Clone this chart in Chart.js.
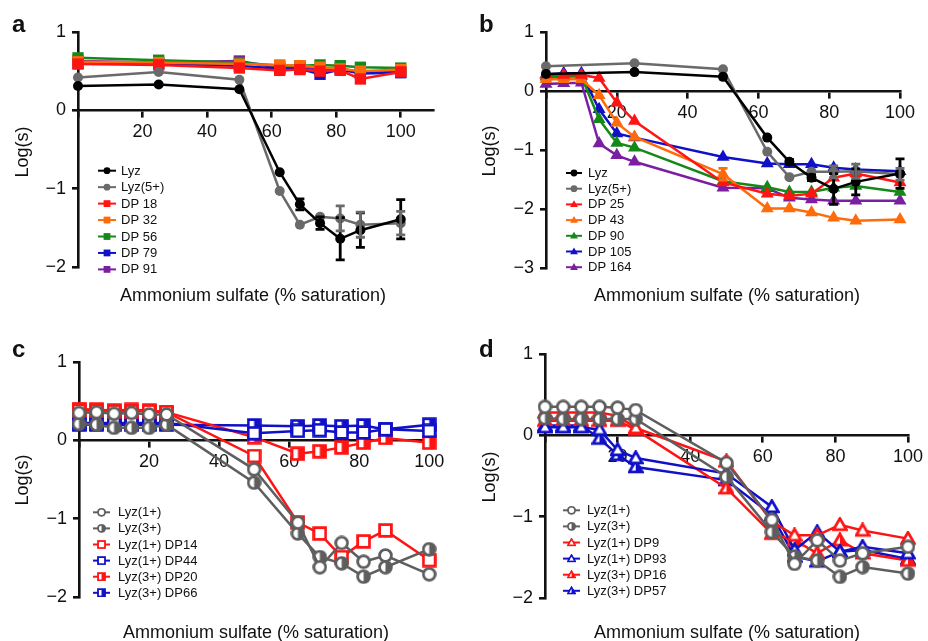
<!DOCTYPE html>
<html>
<head>
<meta charset="utf-8">
<script src="https://cdn.jsdelivr.net/npm/chart.js@4.4.1/dist/chart.umd.min.js"></script>
<style>
  body { margin: 0; background: #fff; }
  #wrap { position: relative; width: 928px; height: 641px; overflow: hidden; font-family: "Liberation Sans", Arial, sans-serif; color: #111; }
  canvas { position: absolute; }
  .lt { position: absolute; font-weight: bold; font-size: 24px; line-height: 1; }
  .xt { position: absolute; width: 400px; text-align: center; font-size: 18px; line-height: 1; }
  .yt { position: absolute; font-size: 18px; line-height: 1; transform: translate(-50%, -50%) rotate(-90deg); white-space: nowrap; }
</style>
</head>
<body>
<div id="wrap">
  <canvas id="ca" width="464" height="320" style="left:0;top:0"></canvas>
  <canvas id="cb" width="464" height="320" style="left:464px;top:0"></canvas>
  <canvas id="cc" width="464" height="321" style="left:0;top:320px"></canvas>
  <canvas id="cd" width="464" height="321" style="left:464px;top:320px"></canvas>

  <div class="lt" style="left:12px;top:12px">a</div>
  <div class="lt" style="left:479px;top:12px">b</div>
  <div class="lt" style="left:12px;top:337px">c</div>
  <div class="lt" style="left:479px;top:337px">d</div>

  <div class="yt" style="left:22px;top:152px">Log(s)</div>
  <div class="yt" style="left:489px;top:151px">Log(s)</div>
  <div class="yt" style="left:22px;top:480px">Log(s)</div>
  <div class="yt" style="left:489px;top:477px">Log(s)</div>

  <div class="xt" style="left:53px;top:286px">Ammonium sulfate (% saturation)</div>
  <div class="xt" style="left:527px;top:286px">Ammonium sulfate (% saturation)</div>
  <div class="xt" style="left:56px;top:623px">Ammonium sulfate (% saturation)</div>
  <div class="xt" style="left:527px;top:623px">Ammonium sulfate (% saturation)</div>
</div>

<script>
// ---- panel a ----
const aX = [0, 25, 50, 62.5, 68.75, 75, 81.25, 87.5, 100];
const aLyz = [0.31, 0.33, 0.27, -0.79, -1.2, -1.44, -1.64, -1.53, -1.39];
const aLyzErr = [0, 0, 0, 0, 0.07, 0.08, 0.27, 0.22, 0.25];
const aLyz5 = [0.42, 0.49, 0.39, -1.03, -1.46, -1.36, -1.38, -1.46, -1.44];
const aLyz5Err = [0, 0, 0, 0, 0, 0, 0.16, 0.16, 0.15];
const aDP18 = [0.59, 0.58, 0.54, 0.51, 0.52, 0.5, 0.51, 0.4, 0.49];
const aDP32 = [0.62, 0.61, 0.59, 0.58, 0.57, 0.55, 0.53, 0.5, 0.52];
const aDP56 = [0.67, 0.64, 0.61, 0.57, 0.57, 0.58, 0.57, 0.55, 0.54];
const aDP79 = [0.6, 0.59, 0.57, 0.53, 0.53, 0.46, 0.52, 0.47, 0.48];
const aDP91 = [0.63, 0.61, 0.63, 0.54, 0.55, 0.52, 0.54, 0.48, 0.49];

// ---- panel b ----
const bX = [0, 25, 50, 62.5, 68.75, 75, 81.25, 87.5, 100];
const bLyz = [0.29, 0.32, 0.24, -0.79, -1.2, -1.47, -1.66, -1.54, -1.4];
const bLyzErr = [0, 0, 0, 0, 0.04, 0.05, 0.26, 0.22, 0.25];
const bLyz5 = [0.42, 0.47, 0.37, -1.03, -1.46, -1.37, -1.37, -1.36, -1.41];
const bLyz5Err = [0, 0, 0, 0, 0, 0, 0.1, 0.12, 0.1];
const bDX = [0, 5, 10, 15, 20, 25, 50, 62.5, 68.75, 75, 81.25, 87.5, 100];
const bDP25 = [0.28, 0.27, 0.27, 0.22, -0.2, -0.51, -1.55, -1.74, -1.78, -1.74, -1.47, -1.4, -1.55];
const bDP43 = [0.2, 0.2, 0.2, -0.07, -0.54, -0.78, -1.41, -1.99, -1.99, -2.06, -2.15, -2.2, -2.18];
const bDP43Err = [0, 0, 0, 0, 0, 0, 0.1, 0, 0, 0, 0, 0, 0];
const bDP90 = [0.24, 0.24, 0.25, -0.48, -0.88, -0.96, -1.53, -1.63, -1.71, -1.71, -1.64, -1.61, -1.71];
const bDP105 = [0.28, 0.3, 0.3, -0.31, -0.72, -0.79, -1.12, -1.23, -1.24, -1.24, -1.3, -1.33, -1.36];
const bDP164 = [0.12, 0.13, 0.14, -0.89, -1.09, -1.2, -1.64, -1.65, -1.81, -1.84, -1.86, -1.86, -1.86];

// ---- panel c ----
const cX = [0, 5, 10, 15, 20, 25, 50, 62.5, 68.75, 75, 81.25, 87.5, 100];
const cLyz1 = [0.35, 0.36, 0.34, 0.35, 0.33, 0.33, -0.37, -1.05, -1.62, -1.31, -1.55, -1.47, -1.71];
const cLyz3 = [0.21, 0.2, 0.16, 0.16, 0.16, 0.2, -0.54, -1.19, -1.49, -1.57, -1.74, -1.62, -1.39];
const cDP14 = [0.38, 0.38, 0.37, 0.37, 0.37, 0.36, -0.2, -1.05, -1.19, -1.49, -1.29, -1.15, -1.53];
const cDP44 = [0.22, 0.22, 0.22, 0.22, 0.22, 0.22, 0.09, 0.12, 0.13, 0.1, 0.1, 0.14, 0.12];
const cDP20 = [0.4, 0.39, 0.38, 0.39, 0.38, 0.36, 0.04, -0.17, -0.14, -0.09, -0.03, 0.03, -0.03];
const cDP66 = [0.2, 0.2, 0.2, 0.2, 0.2, 0.2, 0.19, 0.18, 0.19, 0.18, 0.19, 0.14, 0.2];

// ---- panel d ----
const dX = [0, 5, 10, 15, 20, 25, 50, 62.5, 68.75, 75, 81.25, 87.5, 100];
const dLyz1 = [0.35, 0.35, 0.35, 0.35, 0.34, 0.31, -0.34, -1.04, -1.58, -1.29, -1.54, -1.45, -1.37];
const dLyz3 = [0.21, 0.2, 0.2, 0.2, 0.2, 0.2, -0.51, -1.19, -1.49, -1.54, -1.74, -1.62, -1.7];
const dDP9 = [0.28, 0.28, 0.28, 0.28, 0.24, 0.09, -0.32, -1.06, -1.23, -1.23, -1.1, -1.17, -1.27];
const dDP93 = [0.1, 0.1, 0.1, 0.07, -0.18, -0.28, -0.47, -0.88, -1.41, -1.19, -1.43, -1.37, -1.45];
const dDP16 = [0.18, 0.18, 0.18, 0.18, 0.18, 0.07, -0.65, -1.21, -1.29, -1.45, -1.29, -1.45, -1.54];
const dDP57 = [0.12, 0.12, 0.12, -0.04, -0.24, -0.39, -0.55, -0.98, -1.49, -1.55, -1.43, -1.41, -1.52];

const INK = '#111';
const RED = '#ff1414', ORANGE = '#ff6a0a', GREEN = '#16881a', BLUE = '#1010c8', PURPLE = '#7a1fa2';
const GRAY = '#6a6a6a', DGRAY = '#5e5e5e';

Chart.defaults.font.family = '"Liberation Sans", Arial, sans-serif';
Chart.defaults.color = INK;

// open / half filled markers for panels c and d
function makeMark(shape, color, half, s) {
  const c = document.createElement('canvas');
  c.width = c.height = s;
  const g = c.getContext('2d');
  const m = s / 2, r = s / 2 - 1.6;
  function path() {
    g.beginPath();
    if (shape === 'circle') g.arc(m, m, r, 0, Math.PI * 2);
    else if (shape === 'rect') g.rect(m - r, m - r, 2 * r, 2 * r);
    else { g.moveTo(m, m - r); g.lineTo(m + r, m + r * 0.75); g.lineTo(m - r, m + r * 0.75); g.closePath(); }
  }
  path(); g.fillStyle = '#fff'; g.fill();
  if (half) {
    g.save(); path(); g.clip();
    g.fillStyle = color; g.fillRect(m, 0, m, s);
    g.restore();
  }
  path(); g.lineWidth = 2.8; g.strokeStyle = color; g.stroke();
  return c;
}

function series(label, xs, ys, color, style, radius, errs) {
  return {
    label: label,
    data: xs.map((x, i) => ({ x: x, y: ys[i] })),
    borderColor: color,
    backgroundColor: color,
    pointBackgroundColor: color,
    pointBorderColor: color,
    pointStyle: style,
    pointRadius: radius,
    pointBorderWidth: 0,
    borderWidth: 2.5,
    tension: 0,
    clip: false,
    errors: errs
  };
}

function drawMark(ctx, ds, x, y, r) {
  const st = ds.pointStyle;
  if (st instanceof HTMLCanvasElement) {
    const s = r * 2.7;
    ctx.drawImage(st, x - s / 2, y - s / 2, s, s);
    return;
  }
  ctx.fillStyle = ds.pointBackgroundColor;
  ctx.beginPath();
  if (st === 'rect') ctx.rect(x - r, y - r, 2 * r, 2 * r);
  else if (st === 'triangle') { ctx.moveTo(x, y - r * 1.2); ctx.lineTo(x + r * 1.15, y + r * 0.8); ctx.lineTo(x - r * 1.15, y + r * 0.8); ctx.closePath(); }
  else ctx.arc(x, y, r, 0, Math.PI * 2);
  ctx.fill();
}

const errorBars = {
  id: 'errorBars',
  afterDatasetsDraw(chart) {
    const ctx = chart.ctx, xs = chart.scales.x, ys = chart.scales.y;
    chart.data.datasets.forEach(ds => {
      if (!ds.errors) return;
      ctx.save();
      ctx.strokeStyle = ds.borderColor;
      ctx.lineWidth = 2.8;
      ds.data.forEach((p, i) => {
        const e = ds.errors[i];
        if (!e) return;
        const px = xs.getPixelForValue(p.x);
        const top = ys.getPixelForValue(p.y + e), bot = ys.getPixelForValue(p.y - e);
        ctx.beginPath();
        ctx.moveTo(px, top); ctx.lineTo(px, bot);
        ctx.moveTo(px - 4.5, top); ctx.lineTo(px + 4.5, top);
        ctx.moveTo(px - 4.5, bot); ctx.lineTo(px + 4.5, bot);
        ctx.stroke();
      });
      ctx.restore();
    });
  }
};

// legend drawn inside the plot
const inLegend = {
  id: 'inLegend',
  afterDraw(chart, args, opts) {
    const ctx = chart.ctx;
    ctx.save();
    ctx.font = '13px "Liberation Sans", Arial, sans-serif';
    ctx.textBaseline = 'middle';
    chart.data.datasets.forEach((ds, i) => {
      const y = opts.y + i * opts.dy;
      ctx.strokeStyle = ds.borderColor;
      ctx.lineWidth = 2;
      ctx.beginPath(); ctx.moveTo(opts.x, y); ctx.lineTo(opts.x + opts.len, y); ctx.stroke();
      drawMark(ctx, ds, opts.x + opts.len / 2, y, opts.r);
      ctx.fillStyle = INK;
      ctx.fillText(ds.label, opts.tx, y + 0.5);
    });
    ctx.restore();
  }
};

function axes(xmax, ymin, ymax) {
  return {
    x: {
      type: 'linear', min: 0, max: xmax, position: { y: 0 },
      border: { display: true, color: INK, width: 2.6 },
      grid: { drawOnChartArea: false, color: INK, lineWidth: 2.6, tickLength: 6 },
      ticks: { stepSize: 20, includeBounds: false, autoSkip: false, maxRotation: 0, color: INK, font: { size: 18 }, padding: 5,
        callback: v => v === 0 ? '' : v }
    },
    y: {
      type: 'linear', min: ymin, max: ymax,
      afterFit: s => { s.width = 40; },
      border: { display: true, color: INK, width: 2.6 },
      grid: { drawOnChartArea: false, color: INK, lineWidth: 2.6, tickLength: 6 },
      ticks: { stepSize: 1, color: INK, font: { size: 18 }, padding: 6,
        callback: v => v < 0 ? '\u2212' + (-v) : '' + v }
    }
  };
}

function makeChart(id, datasets, scales, padding, legend) {
  return new Chart(document.getElementById(id), {
    type: 'line',
    data: { datasets: datasets },
    options: {
      responsive: false,
      animation: false,
      layout: { padding: padding },
      scales: scales,
      plugins: { legend: { display: false }, tooltip: { enabled: false }, inLegend: legend }
    },
    plugins: [errorBars, inLegend]
  });
}

makeChart('ca', [
  series('Lyz', aX, aLyz, '#000', 'circle', 5, aLyzErr),
  series('Lyz(5+)', aX, aLyz5, GRAY, 'circle', 5, aLyz5Err),
  series('DP 18', aX, aDP18, RED, 'rect', 8),
  series('DP 32', aX, aDP32, ORANGE, 'rect', 8),
  series('DP 56', aX, aDP56, GREEN, 'rect', 8),
  series('DP 79', aX, aDP79, BLUE, 'rect', 8),
  series('DP 91', aX, aDP91, PURPLE, 'rect', 8)
], axes(110, -2, 1), { left: 38, right: 31, top: 32, bottom: 53 },
  { x: 98, len: 18, tx: 121, y: 170.7, dy: 16.45, r: 3.4 });

makeChart('cb', [
  series('Lyz', bX, bLyz, '#000', 'circle', 5, bLyzErr),
  series('Lyz(5+)', bX, bLyz5, GRAY, 'circle', 5, bLyz5Err),
  series('DP 25', bDX, bDP25, RED, 'triangle', 7.5),
  series('DP 43', bDX, bDP43, ORANGE, 'triangle', 7.5, bDP43Err),
  series('DP 90', bDX, bDP90, GREEN, 'triangle', 7.5),
  series('DP 105', bDX, bDP105, BLUE, 'triangle', 7.5),
  series('DP 164', bDX, bDP164, PURPLE, 'triangle', 7.5)
], axes(100, -3, 1), { left: 42, right: 28, top: 32, bottom: 52 },
  { x: 102, len: 16, tx: 124, y: 173, dy: 15.7, r: 3.4 });

makeChart('cc', [
  series('Lyz(1+)', cX, cLyz1, DGRAY, makeMark('circle', DGRAY, false, 15), 6),
  series('Lyz(3+)', cX, cLyz3, DGRAY, makeMark('circle', DGRAY, true, 15), 6),
  series('Lyz(1+) DP14', cX, cDP14, RED, makeMark('rect', RED, false, 15), 6),
  series('Lyz(1+) DP44', cX, cDP44, BLUE, makeMark('rect', BLUE, false, 15), 6),
  series('Lyz(3+) DP20', cX, cDP20, RED, makeMark('rect', RED, true, 15), 6),
  series('Lyz(3+) DP66', cX, cDP66, BLUE, makeMark('rect', BLUE, true, 15), 6)
], axes(100.5, -2, 1), { left: 39, right: 33, top: 42, bottom: 44 },
  { x: 93, len: 17, tx: 118, y: 192.3, dy: 16.1, r: 3.4 });

makeChart('cd', [
  series('Lyz(1+)', dX, dLyz1, DGRAY, makeMark('circle', DGRAY, false, 15), 6),
  series('Lyz(3+)', dX, dLyz3, DGRAY, makeMark('circle', DGRAY, true, 15), 6),
  series('Lyz(1+) DP9', dX, dDP9, RED, makeMark('triangle', RED, false, 16), 6),
  series('Lyz(1+) DP93', dX, dDP93, BLUE, makeMark('triangle', BLUE, false, 16), 6),
  series('Lyz(3+) DP16', dX, dDP16, RED, makeMark('triangle', RED, true, 16), 6),
  series('Lyz(3+) DP57', dX, dDP57, BLUE, makeMark('triangle', BLUE, true, 16), 6)
], axes(100, -2, 1), { left: 41, right: 16, top: 34, bottom: 43 },
  { x: 99, len: 17, tx: 123, y: 190.3, dy: 16.1, r: 3.4 });
</script>
</body>
</html>
